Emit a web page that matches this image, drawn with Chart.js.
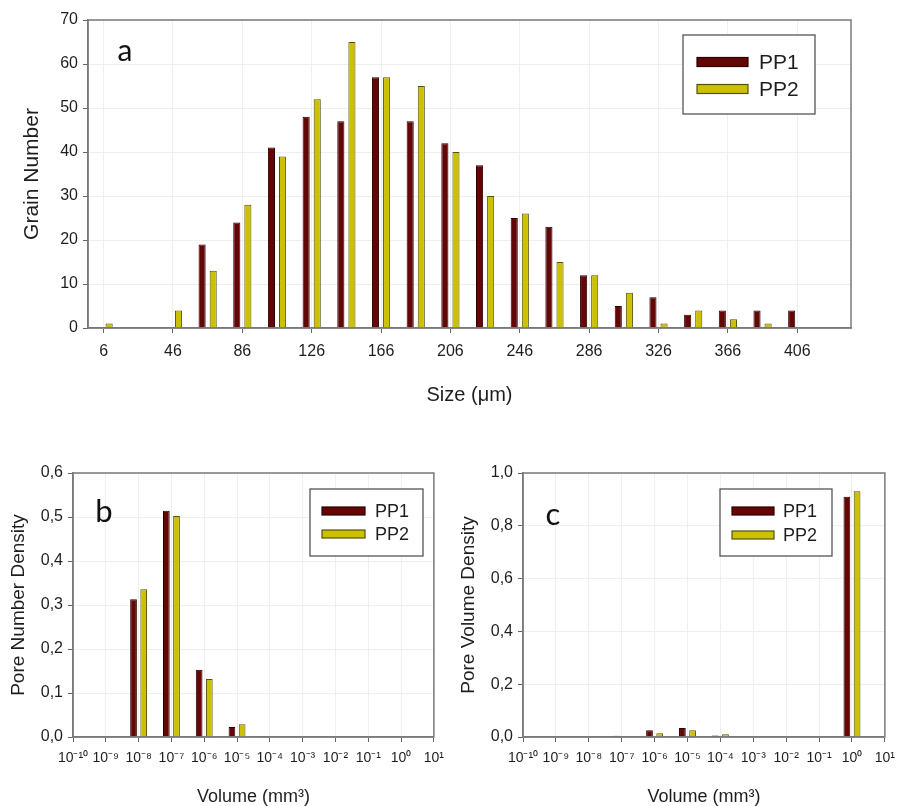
<!DOCTYPE html>
<html><head><meta charset="utf-8">
<script src="https://cdn.jsdelivr.net/npm/chart.js@4"></script>
<style>
html,body{margin:0;padding:0;background:#fff;}
body{width:903px;height:806px;position:relative;overflow:hidden;}
canvas{position:absolute;}
#ca{left:0;top:0;} #cb{left:0;top:410px;} #cc{left:452px;top:410px;}
</style></head><body>
<canvas id="ca" width="903" height="410"></canvas>
<canvas id="cb" width="452" height="396"></canvas>
<canvas id="cc" width="451" height="396"></canvas>
<script>
// ---------- DATA ----------
const seriesNames = ['PP1', 'PP2'];

// Panel a: grain size distribution
const sizeCategories = [6,26,46,66,86,106,126,146,166,186,206,226,246,266,286,306,326,346,366,386,406];
const grainNumberPP1 = [null,null,null,19,24,41,48,47,57,47,42,37,25,23,12,5,7,3,4,4,4];
const grainNumberPP2 = [1,null,4,13,28,39,52,65,57,55,40,30,26,15,12,8,1,4,2,1,null];
const sizeTickLabels = [6,46,86,126,166,206,246,286,326,366,406];

// Panels b and c: volume classes (decade exponents of mm^3)
const volumeExponents = [-10,-9,-8,-7,-6,-5,-4,-3,-2,-1,0,1];
const poreNumberPP1 = [null,null,0.313,0.514,0.153,0.023,0.002,null,null,null,null,null];
const poreNumberPP2 = [null,null,0.336,0.502,0.132,0.029,0.002,null,null,null,null,null];
const poreVolumePP1 = [null,null,null,0.005,0.026,0.034,0.006,null,null,null,0.910,null];
const poreVolumePP2 = [null,null,null,0.003,0.014,0.026,0.010,null,null,null,0.931,null];

// ---------- STYLE ----------
const FONT = "'Liberation Sans', Arial, sans-serif";
const TXT = '#1e1e1e';
const COLORS = [
  {bg:'#640606', border:'#2c0000'},
  {bg:'#cbc100', border:'#55520f'}
];
const SUP = {'-':'\u207B','0':'\u2070','1':'\u00B9','2':'\u00B2','3':'\u00B3','4':'\u2074','5':'\u2075','6':'\u2076','7':'\u2077','8':'\u2078','9':'\u2079'};
const powLabel = e => '10' + String(e).split('').map(c => SUP[c]).join('');
const commaLabel = v => Number(v).toFixed(1).replace('.', ',');

const panelDecor = {
  id: 'panelDecor',
  afterDraw(chart, args, o) {
    const {ctx, chartArea: a} = chart;
    ctx.save();
    ctx.strokeStyle = '#7a7a7a'; ctx.lineWidth = 1.5;
    ctx.strokeRect(a.left, a.top, a.right - a.left, a.bottom - a.top);
    // panel letter
    ctx.fillStyle = '#111'; ctx.font = o.letterFont;
    ctx.textAlign = 'center'; ctx.textBaseline = 'middle';
    ctx.fillText(o.letter, a.left + o.letterX, a.top + o.letterY);
    // legend
    const L = o.legend;
    const bx = a.left + L.x, by = a.top + L.y;
    ctx.fillStyle = '#fff'; ctx.fillRect(bx, by, L.w, L.h);
    ctx.strokeStyle = '#555'; ctx.lineWidth = 1.3; ctx.strokeRect(bx, by, L.w, L.h);
    chart.data.datasets.forEach((ds, i) => {
      const ry = by + L.rows[i];
      ctx.fillStyle = ds.backgroundColor;
      ctx.fillRect(bx + L.sx, ry - L.sh / 2, L.sw, L.sh);
      ctx.strokeStyle = ds.borderColor; ctx.lineWidth = 1.2;
      ctx.strokeRect(bx + L.sx, ry - L.sh / 2, L.sw, L.sh);
      ctx.fillStyle = TXT; ctx.font = L.font;
      ctx.textAlign = 'left'; ctx.textBaseline = 'middle';
      ctx.fillText(ds.label, bx + L.tx, ry + 1);
    });
    ctx.restore();
  }
};

function makeDatasets(xs, series, cp, bp) {
  return series.map((vals, i) => ({
    label: seriesNames[i],
    data: xs.map((x, j) => ({x: x, y: vals[j]})),
    backgroundColor: COLORS[i].bg,
    borderColor: COLORS[i].border,
    borderWidth: 1,
    categoryPercentage: cp,
    barPercentage: bp
  }));
}

function makeChart(id, cfg) {
  return new Chart(document.getElementById(id), {
    type: 'bar',
    data: {datasets: cfg.datasets},
    options: {
      responsive: false,
      animation: false,
      layout: {padding: cfg.padding},
      plugins: {legend: {display: false}, tooltip: {enabled: false}, panelDecor: cfg.decor},
      scales: {
        x: {
          type: 'linear', min: cfg.xmin, max: cfg.xmax, offset: false,
          afterBuildTicks: s => { s.ticks = cfg.xticks.map(v => ({value: v})); },
          afterFit: s => { s.height = cfg.xAxisHeight; },
          ticks: {font: {size: cfg.xTickSize, family: FONT}, color: TXT, padding: cfg.xTickPad,
                  autoSkip: false, maxRotation: 0, callback: cfg.xLabel},
          grid: {offset: false, color: '#efefef', tickColor: '#666', tickLength: 5, lineWidth: 1},
          border: {color: '#7a7a7a', width: 1.5},
          title: {display: true, text: cfg.xTitle, color: TXT,
                  font: {size: cfg.xTitleSize, family: FONT, lineHeight: 1.0}, padding: {top: 0, bottom: cfg.xTitlePad}}
        },
        y: {
          min: cfg.ymin, max: cfg.ymax,
          afterFit: s => { s.width = cfg.yAxisWidth; },
          ticks: {stepSize: cfg.ystep, font: {size: cfg.yTickSize, family: FONT}, color: TXT, padding: 5,
                  callback: cfg.yLabel},
          grid: {color: '#efefef', tickColor: '#666', tickLength: 5, lineWidth: 1},
          border: {color: '#7a7a7a', width: 1.5},
          title: {display: true, text: cfg.yTitle, color: TXT,
                  font: {size: cfg.yTitleSize, family: FONT, lineHeight: 1.0}, padding: {top: cfg.yTitlePad, bottom: 0}}
        }
      }
    },
    plugins: [panelDecor]
  });
}

// Panel a
makeChart('ca', {
  datasets: makeDatasets(sizeCategories, [grainNumberPP1, grainNumberPP2], 0.64, 0.64),
  padding: {top: 20, right: 52, left: 0, bottom: 0},
  xmin: -3, xmax: 437, xticks: sizeTickLabels, xLabel: v => String(v),
  xAxisHeight: 82, xTickSize: 16, xTickPad: 9,
  xTitle: 'Size (\u03BCm)', xTitleSize: 20, xTitlePad: 5,
  ymin: 0, ymax: 70, ystep: 10, yLabel: v => String(v),
  yAxisWidth: 88, yTickSize: 16,
  yTitle: 'Grain Number', yTitleSize: 21, yTitlePad: 22,
  decor: {letter: 'a', letterFont: "30px Lato, 'Liberation Sans', sans-serif", letterX: 37, letterY: 31,
          legend: {x: 595, y: 15, w: 132, h: 79, sx: 14, sw: 51, sh: 9, tx: 76, rows: [27, 54],
                   font: "21px 'Liberation Sans', Arial, sans-serif"}}
});

// Panel b
makeChart('cb', {
  datasets: makeDatasets(volumeExponents, [poreNumberPP1, poreNumberPP2], 0.62, 0.66),
  padding: {top: 63, right: 9, left: 0, bottom: 0},
  xmin: -10, xmax: 1, xticks: volumeExponents, xLabel: v => powLabel(v),
  xAxisHeight: 69, xTickSize: 14, xTickPad: 8,
  xTitle: 'Volume (mm\u00B3)', xTitleSize: 18, xTitlePad: 0,
  ymin: 0, ymax: 0.6, ystep: 0.1, yLabel: commaLabel,
  yAxisWidth: 73, yTickSize: 16,
  yTitle: 'Pore Number Density', yTitleSize: 19, yTitlePad: 9,
  decor: {letter: 'b', letterFont: "31px Lato, 'Liberation Sans', sans-serif", letterX: 31, letterY: 39,
          legend: {x: 237, y: 16, w: 113, h: 67, sx: 12, sw: 43, sh: 8, tx: 65, rows: [22, 45],
                   font: "18px 'Liberation Sans', Arial, sans-serif"}}
});

// Panel c
makeChart('cc', {
  datasets: makeDatasets(volumeExponents, [poreVolumePP1, poreVolumePP2], 0.62, 0.66),
  padding: {top: 63, right: 10, left: 0, bottom: 0},
  xmin: -10, xmax: 1, xticks: volumeExponents, xLabel: v => powLabel(v),
  xAxisHeight: 69, xTickSize: 14, xTickPad: 8,
  xTitle: 'Volume (mm\u00B3)', xTitleSize: 18, xTitlePad: 0,
  ymin: 0, ymax: 1.0, ystep: 0.2, yLabel: commaLabel,
  yAxisWidth: 71, yTickSize: 16,
  yTitle: 'Pore Volume Density', yTitleSize: 19, yTitlePad: 7,
  decor: {letter: 'c', letterFont: "31px Lato, 'Liberation Sans', sans-serif", letterX: 30, letterY: 42,
          legend: {x: 197, y: 16, w: 112, h: 67, sx: 12, sw: 42, sh: 8, tx: 63, rows: [22, 46],
                   font: "18px 'Liberation Sans', Arial, sans-serif"}}
});
</script>
</body></html>
